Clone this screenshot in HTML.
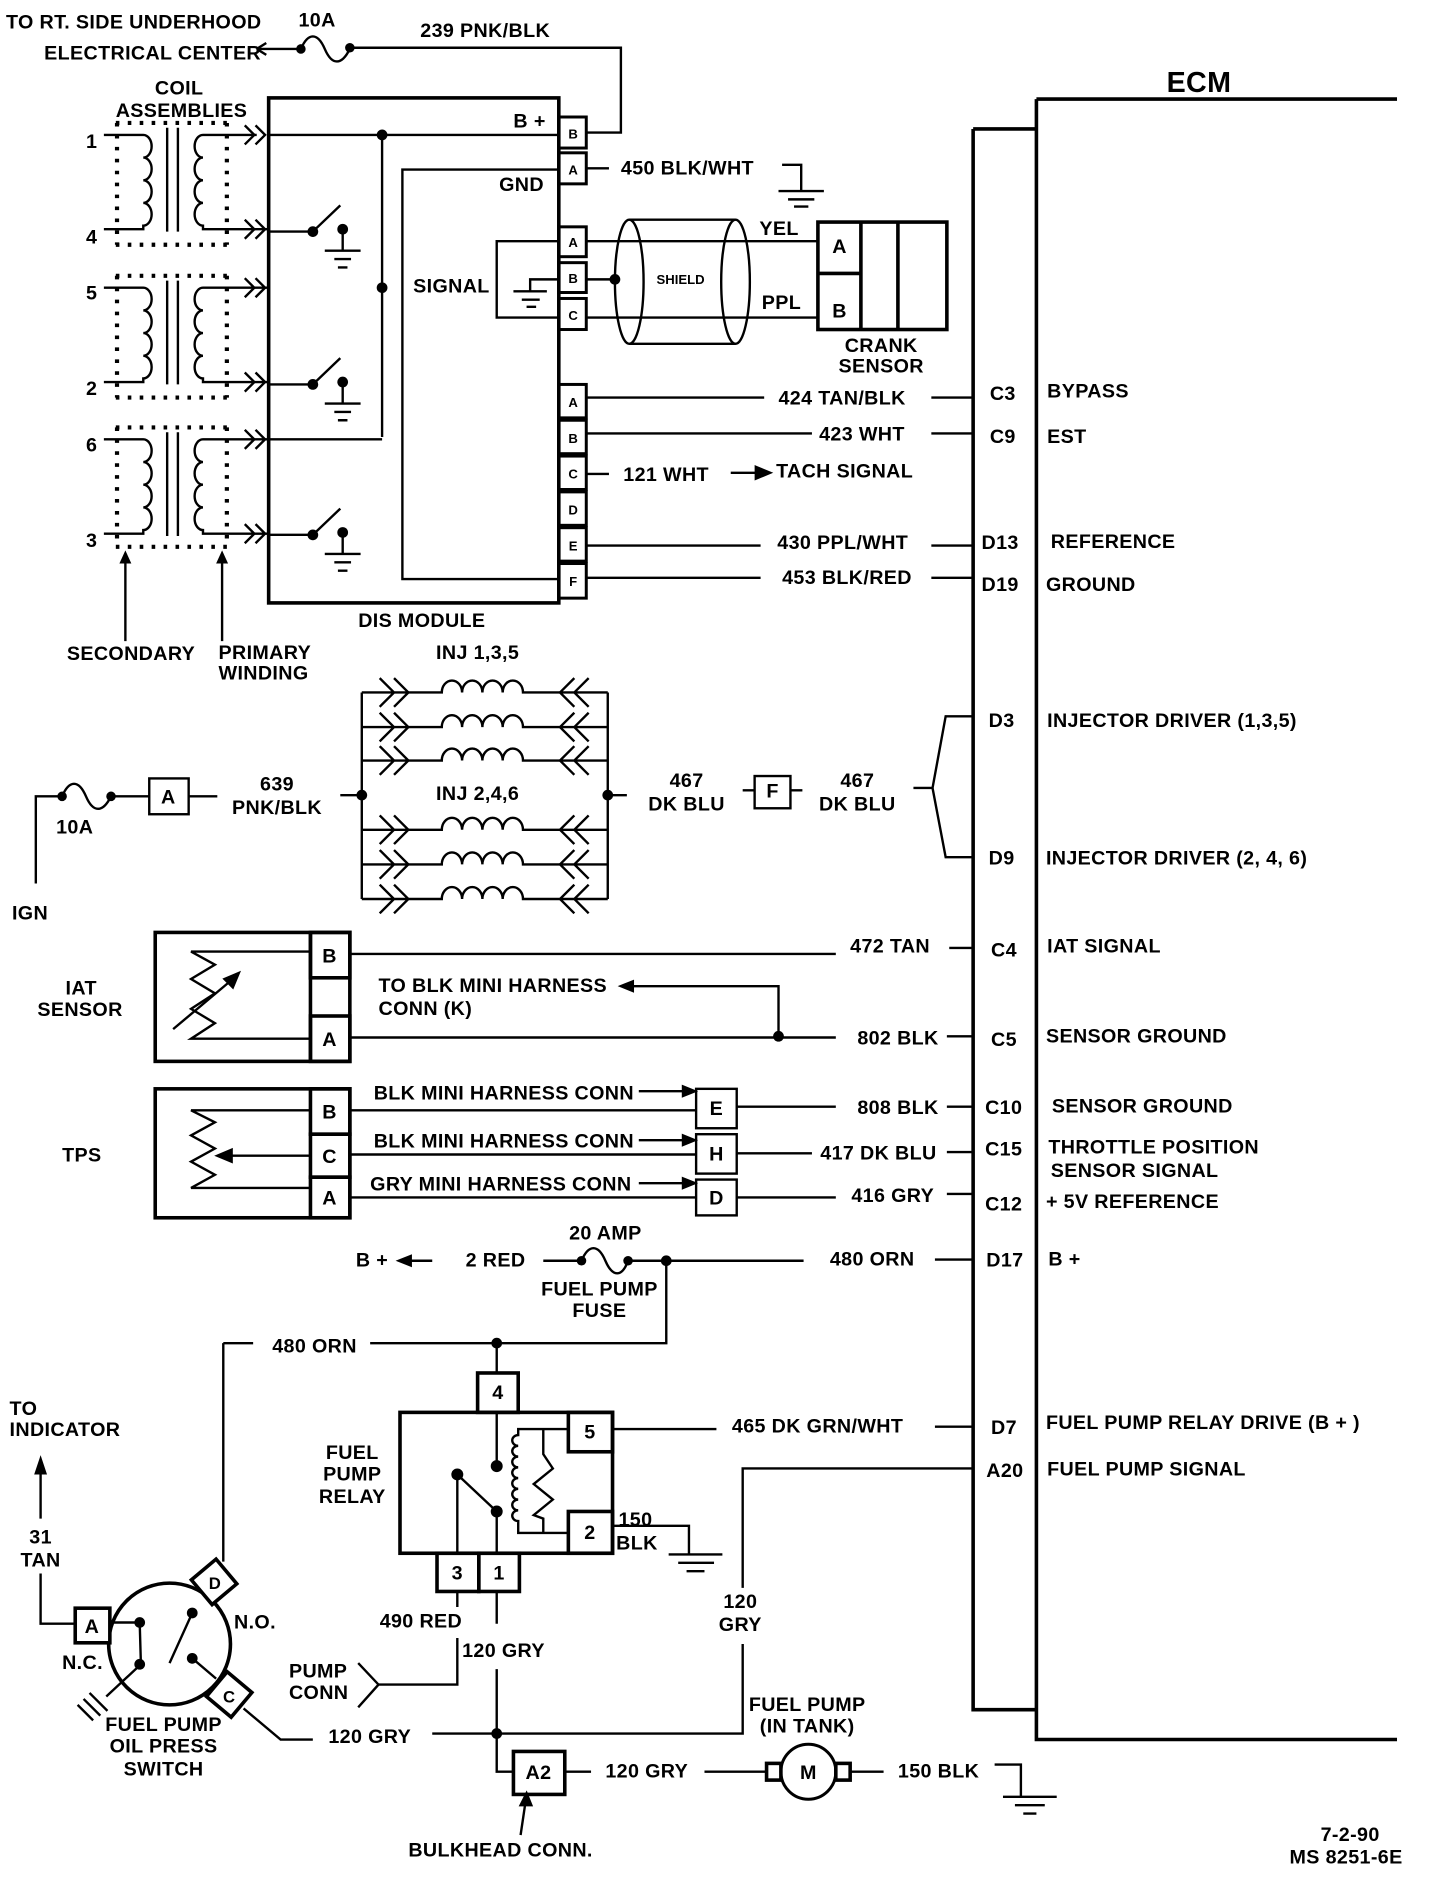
<!DOCTYPE html>
<html><head><meta charset="utf-8"><style>
html,body{margin:0;padding:0;background:#fff}
svg{display:block}
text{font-family:"Liberation Sans",sans-serif;font-weight:bold;font-size:16.5px;letter-spacing:0.3px;fill:#000}
.s{font-size:11px;letter-spacing:0}
.m{text-anchor:middle}
</style></head><body>
<svg width="1440" height="1878" viewBox="0 0 1206 1573" preserveAspectRatio="none" xmlns="http://www.w3.org/2000/svg">
<g fill="none" stroke="#000" stroke-width="2">
<path d="M215,41 H252"/><path d="M215,41 l8,-5 M215,41 l8,5"/>
<path d="M252,41 c6,-14 14,-14 20,0 s14,14 21,0"/>
<path d="M293,40 H520 V111 H492"/>
<rect x="225" y="82" width="243" height="423" stroke-width="3"/>
<path d="M225,113 H468"/>
<path d="M320,113 V366"/>
<path d="M468,142 H337 V485 H468"/>
<path d="M468,202 H416 V266 H468"/>
<path d="M468,234 H444 V244 M430,244 H458 M437,251 H452 M441,257 H449"/>
<g stroke-width="2.5">
<rect x="468" y="98" width="23" height="26"/><rect x="468" y="128" width="23" height="26"/>
<rect x="468" y="190" width="23" height="25"/><rect x="468" y="220" width="23" height="25"/><rect x="468" y="250" width="23" height="26"/>
<rect x="468" y="322" width="23" height="28"/><rect x="468" y="352" width="23" height="28"/><rect x="468" y="382" width="23" height="28"/><rect x="468" y="412" width="23" height="28"/><rect x="468" y="442" width="23" height="28"/><rect x="468" y="472" width="23" height="29"/>
</g>
<path d="M87,113 H120 a7,9.5 0 0 1 0,19 a7,9.5 0 0 1 0,19 a7,9.5 0 0 1 0,19 a7,9.5 0 0 1 0,19 V192 H87"/>
<path d="M140,107 V194 M149,107 V194"/>
<path d="M215,113 H170 a7,9.5 0 0 0 0,19 a7,9.5 0 0 0 0,19 a7,9.5 0 0 0 0,19 a7,9.5 0 0 0 0,19 V192 H225"/>
<path d="M87,241 H120 a7,9.5 0 0 1 0,19 a7,9.5 0 0 1 0,19 a7,9.5 0 0 1 0,19 a7,9.5 0 0 1 0,19 V320 H87"/>
<path d="M140,235 V322 M149,235 V322"/>
<path d="M225,241 H170 a7,9.5 0 0 0 0,19 a7,9.5 0 0 0 0,19 a7,9.5 0 0 0 0,19 a7,9.5 0 0 0 0,19 V320 H225"/>
<path d="M87,368 H120 a7,9.5 0 0 1 0,19 a7,9.5 0 0 1 0,19 a7,9.5 0 0 1 0,19 a7,9.5 0 0 1 0,19 V447 H87"/>
<path d="M140,362 V449 M149,362 V449"/>
<path d="M225,368 H170 a7,9.5 0 0 0 0,19 a7,9.5 0 0 0 0,19 a7,9.5 0 0 0 0,19 a7,9.5 0 0 0 0,19 V447 H225"/>
<g stroke-width="3.5" stroke-dasharray="3,7">
<path d="M97,103 H192 M97,205 H192 M98,103 V205 M190,103 V205"/>
<path d="M97,231 H192 M97,333 H192 M98,231 V333 M190,231 V333"/>
<path d="M97,358 H192 M97,458 H192 M98,358 V458 M190,358 V458"/>
</g>
<g stroke-width="2">
<path d="M205,105 l8,8 -8,8 M214,105 l8,8 -8,8"/>
<path d="M205,184 l8,8 -8,8 M214,184 l8,8 -8,8"/>
<path d="M205,233 l8,8 -8,8 M214,233 l8,8 -8,8"/>
<path d="M205,312 l8,8 -8,8 M214,312 l8,8 -8,8"/>
<path d="M205,360 l8,8 -8,8 M214,360 l8,8 -8,8"/>
<path d="M205,439 l8,8 -8,8 M214,439 l8,8 -8,8"/>
</g>
<path d="M225,368 H320" />
<path d="M225,194 H262 L285,172 M287,192 V210 M272,210 H302 M280,217 H294 M283,224 H291"/>
<path d="M225,322 H262 L285,300 M287,320 V338 M272,338 H302 M280,345 H294 M283,352 H291"/>
<path d="M225,448 H262 L285,426 M287,446 V464 M272,464 H302 M280,471 H294 M283,478 H291"/>
<path d="M105,470 V537 M186,470 V537"/>
<path d="M491,141 H510 M655,138 H671 V160 M652,160 H690 M660,167 H682 M665,173 H677"/>
<path d="M491,202 H685 M491,266 H685 M491,234 H515"/>
<ellipse cx="527" cy="236" rx="12" ry="52"/><ellipse cx="616" cy="236" rx="12" ry="52"/>
<path d="M527,184 H616 M527,288 H616"/>
<rect x="685" y="186" width="108" height="90" stroke-width="3"/>
<path d="M721,186 V276 M752,186 V276 M685,229 H721" stroke-width="3"/>
<path d="M491,333 H640 M780,333 H815 M491,363 H680 M780,363 H815 M491,397 H510 M612,396 H640 M491,457 H637 M780,457 H815 M491,484 H637 M780,484 H815"/>
<path d="M633,391 L645,396 L633,401 Z" fill="#000"/>
<path d="M815,108 H868 M815,108 V1432 H868 M868,83 H1170 M868,83 V1457 H1170" stroke-width="3"/>
<path d="M303,580 V753 M509,580 V753 M285,666 H303 M509,666 H525"/>
<g id="inj">
<path d="M303,580 H342 M330,568 l12,12 -12,12 M318,568 l12,12 -12,12"/>
<path d="M342,580 H370 a8.5,10 0 0 1 17,0 a8.5,10 0 0 1 17,0 a8.5,10 0 0 1 17,0 a8.5,10 0 0 1 17,0 H469"/>
<path d="M469,580 H509 M481,568 l-12,12 12,12 M493,568 l-12,12 12,12"/>
</g>
<use href="#inj" y="29"/><use href="#inj" y="57"/><use href="#inj" y="115"/><use href="#inj" y="144"/><use href="#inj" y="173"/>
<path d="M30,740 V667 H52 M52,667 c6,-14 14,-14 20,0 s14,14 21,0 H125 M158,667 H182"/>
<rect x="125" y="652" width="33" height="30"/>
<rect x="632" y="650" width="30" height="27"/>
<path d="M622,662 H632 M662,662 H672 M765,660 H781 L792,600 H815 M781,660 L792,718 H815"/>
<rect x="130" y="781" width="163" height="108" stroke-width="3"/>
<path d="M260,781 V889" stroke-width="3"/>
<rect x="260" y="781" width="33" height="38" stroke-width="3"/>
<rect x="260" y="851" width="33" height="38" stroke-width="3"/>
<path d="M260,797 H160 L180,808 L160,820 L180,832 L160,845 L180,857 L160,870 H260"/>
<path d="M145,862 L195,820"/><path d="M200,815 L188,820 L195,827 Z" fill="#000"/>
<path d="M293,799 H700 M795,794 H815 M293,869 H700 M793,868 H815 M652,868 V826 H525"/>
<path d="M520,826 l10,-4 v8 Z" fill="#000"/>
<rect x="130" y="912" width="163" height="108" stroke-width="3"/>
<rect x="260" y="912" width="33" height="38" stroke-width="3"/>
<rect x="260" y="950" width="33" height="36" stroke-width="3"/>
<rect x="260" y="986" width="33" height="34" stroke-width="3"/>
<path d="M260,930 H160 L180,940 L160,951 L180,962 L160,973 L180,984 L160,995 H260"/>
<path d="M260,968 H190"/><path d="M182,968 l12,-5 v10 Z" fill="#000"/>
<path d="M293,930 H583 M293,967 H583 M293,1003 H583"/>
<rect x="583" y="912" width="34" height="33"/><rect x="583" y="950" width="34" height="33"/><rect x="583" y="988" width="34" height="30"/>
<path d="M535,914 H575 M535,955 H575 M535,991 H575"/>
<path d="M582,914 l-10,-4 v8 Z M582,955 l-10,-4 v8 Z M582,991 l-10,-4 v8 Z" fill="#000"/>
<path d="M617,927 H700 M793,927 H815 M617,966 H680 M793,965 H815 M617,1003 H700 M793,1000 H815"/>
<path d="M340,1056 H362 M455,1056 H487 M487,1056 c6,-14 14,-14 20,0 s14,14 19,0 H673 M783,1055 H815"/>
<path d="M334,1056 l10,-4 v8 Z" fill="#000"/>
<path d="M558,1056 V1125 H310 M187,1125 H212 M187,1125 V1308"/>
<path d="M416,1125 V1150"/>
<rect x="335" y="1183" width="178" height="118" stroke-width="3"/>
<rect x="400" y="1150" width="34" height="33" stroke-width="3"/>
<rect x="476" y="1183" width="37" height="33" stroke-width="3"/>
<rect x="476" y="1266" width="37" height="35" stroke-width="3"/>
<rect x="366" y="1301" width="35" height="32" stroke-width="3"/>
<rect x="401" y="1301" width="34" height="32" stroke-width="3"/>
<path d="M416,1183 V1228 M383,1235 L416,1266 M383,1235 V1301 M416,1266 V1301"/>
<path d="M476,1197 H434 V1202 a5,4.5 0 0 0 0,9 a5,4.5 0 0 0 0,9 a5,4.5 0 0 0 0,9 a5,4.5 0 0 0 0,9 a5,4.5 0 0 0 0,9 a5,4.5 0 0 0 0,9 a5,4.5 0 0 0 0,9 a5,4.5 0 0 0 0,9 V1284 H476"/>
<path d="M455,1197 V1218 L463,1230 L447,1243 L463,1256 L447,1269 L455,1272 V1284"/>
<path d="M513,1197 H600 M783,1195 H815 M815,1230 H622 V1330 M622,1377 V1452 H362"/>
<path d="M513,1278 H577 V1302 M560,1302 H605 M568,1309 H598 M575,1316 H590"/>
<path d="M383,1333 V1346 M383,1372 V1411 H317 M300,1393 L317,1411 L300,1430"/>
<path d="M416,1333 V1360 M416,1398 V1484 H430"/>
<rect x="430" y="1467" width="43" height="36" stroke-width="3"/>
<path d="M473,1484 H495 M590,1484 H642 M713,1484 H740 M833,1478 H855 V1505 M840,1505 H885 M850,1512 H875 M857,1519 H868"/>
<rect x="642" y="1477" width="12" height="14" stroke-width="3"/>
<rect x="700" y="1477" width="12" height="14" stroke-width="3"/>
<circle cx="677" cy="1484" r="23" stroke-width="2.5"/>
<path d="M436,1537 L440,1510"/><path d="M441,1502 l-5,10 h9 Z" fill="#000"/>
<circle cx="142" cy="1377" r="51" stroke-width="3"/>
<rect x="63" y="1347" width="29" height="29" stroke-width="3" fill="#fff"/>
<rect x="166" y="1311" width="27" height="27" transform="rotate(-40 180 1325)" stroke-width="3" fill="#fff"/>
<rect x="178" y="1406" width="27" height="27" transform="rotate(40 192 1420)" stroke-width="3" fill="#fff"/>
<path d="M92,1359 H117 L118,1394 L89,1421 M161,1351 L142,1393 M161,1389 L181,1406 M204,1431 L235,1457 H262"/>
<path d="M75,1418 L90,1433 M70,1423 L84,1437 M65,1428 L78,1441"/>
<path d="M34,1318 V1360 H63 M34,1272 V1232"/><path d="M34,1222 l-4,12 h8 Z" fill="#000"/>
</g>
<g fill="#000">
<path d="M105,461 l-5,11 h10 Z M186,461 l-5,11 h10 Z"/>
<circle cx="252" cy="41" r="4"/><circle cx="293" cy="40" r="4"/>
<circle cx="320" cy="113" r="4.5"/><circle cx="320" cy="241" r="4.5"/>
<circle cx="262" cy="194" r="4.5"/><circle cx="287" cy="192" r="4.5"/>
<circle cx="262" cy="322" r="4.5"/><circle cx="287" cy="320" r="4.5"/>
<circle cx="262" cy="448" r="4.5"/><circle cx="287" cy="446" r="4.5"/>
<circle cx="515" cy="234" r="4.5"/>
<circle cx="303" cy="666" r="4.5"/><circle cx="509" cy="666" r="4.5"/>
<circle cx="52" cy="667" r="4"/><circle cx="93" cy="667" r="4"/>
<circle cx="652" cy="868" r="4.5"/>
<circle cx="487" cy="1056" r="4"/><circle cx="526" cy="1056" r="4"/><circle cx="558" cy="1056" r="4.5"/>
<circle cx="416" cy="1125" r="4.5"/>
<circle cx="416" cy="1228" r="5"/><circle cx="383" cy="1235" r="5"/><circle cx="416" cy="1266" r="5"/>
<circle cx="416" cy="1452" r="4.5"/>
<circle cx="117" cy="1359" r="4.5"/><circle cx="117" cy="1394" r="4.5"/><circle cx="161" cy="1351" r="4.5"/><circle cx="161" cy="1389" r="4.5"/>
</g>
<text x="5" y="24">TO RT. SIDE UNDERHOOD</text>
<text x="37" y="50">ELECTRICAL CENTER</text>
<text x="250" y="22">10A</text>
<text x="352" y="31">239 PNK/BLK</text>
<text class="m" x="150" y="79">COIL</text>
<text class="m" x="152" y="98">ASSEMBLIES</text>
<text x="72" y="124">1</text><text x="72" y="204">4</text><text x="72" y="251">5</text><text x="72" y="331">2</text><text x="72" y="378">6</text><text x="72" y="458">3</text>
<text x="430" y="107">B +</text>
<text x="418" y="160">GND</text>
<text x="346" y="245">SIGNAL</text>
<text class="s m" x="480" y="116">B</text><text class="s m" x="480" y="146">A</text>
<text class="s m" x="480" y="207">A</text><text class="s m" x="480" y="237">B</text><text class="s m" x="480" y="268">C</text>
<text class="s m" x="480" y="341">A</text><text class="s m" x="480" y="371">B</text><text class="s m" x="480" y="401">C</text><text class="s m" x="480" y="431">D</text><text class="s m" x="480" y="461">E</text><text class="s m" x="480" y="491">F</text>
<text x="520" y="146">450 BLK/WHT</text>
<text class="s m" x="570" y="238">SHIELD</text>
<text x="636" y="197">YEL</text><text x="638" y="259">PPL</text>
<text x="697" y="212">A</text><text x="697" y="266">B</text>
<text class="m" x="738" y="295">CRANK</text><text class="m" x="738" y="312">SENSOR</text>
<text x="652" y="339">424 TAN/BLK</text>
<text x="686" y="369">423 WHT</text>
<text x="522" y="403">121 WHT</text>
<text x="650" y="400">TACH SIGNAL</text>
<text x="651" y="460">430 PPL/WHT</text>
<text x="655" y="489">453 BLK/RED</text>
<text x="300" y="525">DIS MODULE</text>
<text x="56" y="553">SECONDARY</text>
<text x="183" y="552">PRIMARY</text><text x="183" y="569">WINDING</text>
<text x="977" y="77" style="font-size:24px">ECM</text>
<text x="829" y="335">C3</text><text x="877" y="333">BYPASS</text>
<text x="829" y="371">C9</text><text x="877" y="371">EST</text>
<text x="822" y="460">D13</text><text x="880" y="459">REFERENCE</text>
<text x="822" y="495">D19</text><text x="876" y="495">GROUND</text>
<text class="m" x="400" y="552">INJ 1,3,5</text>
<text class="m" x="400" y="670">INJ 2,4,6</text>
<text class="m" x="232" y="662">639</text><text class="m" x="232" y="682">PNK/BLK</text>
<text class="m" x="575" y="659">467</text><text class="m" x="575" y="679">DK BLU</text>
<text class="m" x="647" y="668">F</text>
<text class="m" x="718" y="659">467</text><text class="m" x="718" y="679">DK BLU</text>
<text x="828" y="609">D3</text><text x="877" y="609">INJECTOR DRIVER (1,3,5)</text>
<text x="828" y="724">D9</text><text x="876" y="724">INJECTOR DRIVER (2, 4, 6)</text>
<text class="m" x="141" y="673">A</text>
<text x="47" y="698">10A</text>
<text x="10" y="770">IGN</text>
<text class="m" x="68" y="833">IAT</text><text class="m" x="67" y="851">SENSOR</text>
<text class="m" x="276" y="806">B</text><text class="m" x="276" y="876">A</text>
<text x="712" y="798">472 TAN</text>
<text x="317" y="831">TO BLK MINI HARNESS</text><text x="317" y="850">CONN (K)</text>
<text x="718" y="875">802 BLK</text>
<text x="830" y="801">C4</text><text x="877" y="798">IAT SIGNAL</text>
<text x="830" y="876">C5</text><text x="876" y="873">SENSOR GROUND</text>
<text x="52" y="973">TPS</text>
<text class="m" x="276" y="937">B</text><text class="m" x="276" y="974">C</text><text class="m" x="276" y="1009">A</text>
<text x="313" y="921">BLK MINI HARNESS CONN</text>
<text x="313" y="961">BLK MINI HARNESS CONN</text>
<text x="310" y="997">GRY MINI HARNESS CONN</text>
<text class="m" x="600" y="934">E</text><text class="m" x="600" y="972">H</text><text class="m" x="600" y="1009">D</text>
<text x="718" y="933">808 BLK</text><text x="687" y="971">417 DK BLU</text><text x="713" y="1007">416 GRY</text>
<text x="825" y="933">C10</text><text x="881" y="932">SENSOR GROUND</text>
<text x="825" y="968">C15</text><text x="878" y="966">THROTTLE POSITION</text><text x="880" y="986">SENSOR SIGNAL</text>
<text x="825" y="1014">C12</text><text x="876" y="1012">+ 5V REFERENCE</text>
<text x="298" y="1061">B +</text><text x="390" y="1061">2 RED</text>
<text class="m" x="507" y="1038">20 AMP</text>
<text class="m" x="502" y="1085">FUEL PUMP</text><text class="m" x="502" y="1103">FUSE</text>
<text x="695" y="1060">480 ORN</text>
<text x="826" y="1061">D17</text><text x="878" y="1060">B +</text>
<text x="228" y="1133">480 ORN</text>
<text class="m" x="417" y="1172">4</text><text class="m" x="494" y="1205">5</text><text class="m" x="494" y="1289">2</text>
<text class="m" x="383" y="1323">3</text><text class="m" x="418" y="1323">1</text>
<text class="m" x="295" y="1222">FUEL</text><text class="m" x="295" y="1240">PUMP</text><text class="m" x="295" y="1259">RELAY</text>
<text x="613" y="1200">465 DK GRN/WHT</text>
<text x="830" y="1201">D7</text><text x="876" y="1197">FUEL PUMP RELAY DRIVE (B + )</text>
<text x="826" y="1237">A20</text><text x="877" y="1236">FUEL PUMP SIGNAL</text>
<text x="518" y="1278">150</text><text x="516" y="1298">BLK</text>
<text class="m" x="620" y="1347">120</text><text class="m" x="620" y="1366">GRY</text>
<text x="318" y="1363">490 RED</text>
<text x="387" y="1388">120 GRY</text>
<text x="242" y="1405">PUMP</text><text x="242" y="1423">CONN</text>
<text x="275" y="1460">120 GRY</text>
<text class="m" x="451" y="1490">A2</text>
<text x="507" y="1489">120 GRY</text>
<text class="m" x="677" y="1490">M</text>
<text class="m" x="676" y="1433">FUEL PUMP</text><text class="m" x="676" y="1451">(IN TANK)</text>
<text x="752" y="1489">150 BLK</text>
<text x="342" y="1555">BULKHEAD CONN.</text>
<text x="8" y="1185">TO</text><text x="8" y="1203">INDICATOR</text>
<text class="m" x="34" y="1293">31</text><text class="m" x="34" y="1312">TAN</text>
<text class="m" x="77" y="1368">A</text>
<text class="m" x="180" y="1331" style="font-size:14px">D</text>
<text class="m" x="192" y="1426" style="font-size:14px">C</text>
<text x="196" y="1364">N.O.</text><text x="52" y="1398">N.C.</text>
<text class="m" x="137" y="1450">FUEL PUMP</text><text class="m" x="137" y="1468">OIL PRESS</text><text class="m" x="137" y="1487">SWITCH</text>
<text x="1106" y="1542">7-2-90</text>
<text x="1080" y="1561">MS 8251-6E</text>
</svg>
</body></html>
